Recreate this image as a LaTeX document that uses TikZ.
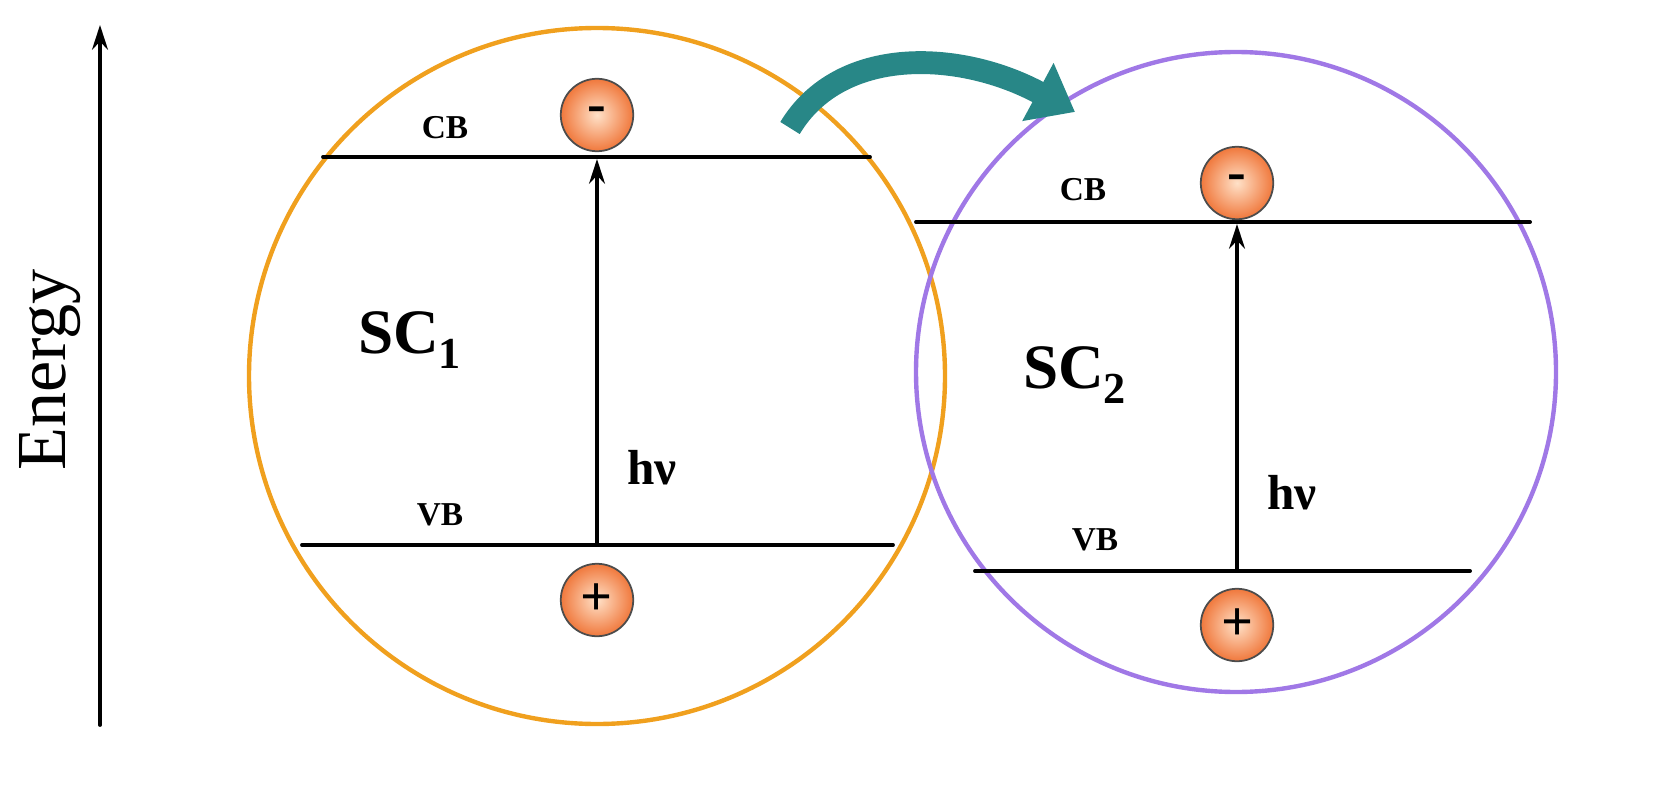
\documentclass[tikz,border=0pt]{standalone}
\usepackage{fontspec}
\setmainfont{Liberation Serif}
\usetikzlibrary{arrows.meta,positioning}
\definecolor{orangeA}{RGB}{240,160,30}
\definecolor{purpleA}{RGB}{160,120,230}
\definecolor{tealA}{RGB}{40,135,135}
\definecolor{chargeA}{RGB}{240,120,60}
\definecolor{chargeB}{RGB}{255,225,200}
\tikzset{
  band/.style={line width=2.2pt},
  charge/.style={circle, draw=black!70, line width=1pt, minimum size=1.45cm,
    inner sep=0pt, inner color=chargeB, outer color=chargeA, font=\bfseries\fontsize{32}{32}\selectfont},
  lvl/.style={font=\bfseries\fontsize{19}{19}\selectfont},
  sc/.style={font=\bfseries\fontsize{36}{36}\selectfont},
  hv/.style={font=\bfseries\fontsize{28}{28}\selectfont},
  up/.style={-{Stealth[length=14pt,width=9pt]}, line width=2.2pt}
}
\begin{document}
\begin{tikzpicture}[x=0.02cm,y=-0.02cm, line join = round, line cap = round]
  \useasboundingbox (0,0) rectangle (1665,787);

  % energy axis
  \coordinate (e0) at (100,725);
  \coordinate (e1) at (100,25);
  \draw[up] (e0) -- (e1);
  \node[rotate=90, font=\fontsize{40}{40}\selectfont] (energy) at (50,370) {Energy};

  % SC1
  \draw[orangeA, line width=2.5pt] (597,376) circle [radius=348];
  \coordinate (cb1l) at (323,157); \coordinate (cb1r) at (870,157);
  \coordinate (vb1l) at (302,545); \coordinate (vb1r) at (893,545);
  \coordinate (vb1) at (597,545);  \coordinate (cb1) at (597,159);
  \draw[band] (cb1l) -- (cb1r);
  \draw[band] (vb1l) -- (vb1r);
  \draw[up] (vb1) -- (cb1);
  \node[lvl] (cbA) at (445,128) {CB};
  \node[lvl] (vbA) at (440,515) {VB};
  \node[charge] (e1m) at (597,115) {-};
  \node[charge] (h1p) at (597,600) {+};
  \node[sc] (sc1) at (410,340) {SC\textsubscript{1}};
  \node[hv] (hv1) at (652,468) {hν};

  % SC2
  \draw[purpleA, line width=2.5pt] (1236,372) circle [radius=320];
  \coordinate (cb2l) at (916,222); \coordinate (cb2r) at (1530,222);
  \coordinate (vb2l) at (975,571); \coordinate (vb2r) at (1470,571);
  \coordinate (vb2) at (1237,571); \coordinate (cb2) at (1237,224);
  \draw[band] (cb2l) -- (cb2r);
  \draw[band] (vb2l) -- (vb2r);
  \draw[up] (vb2) -- (cb2);
  \node[lvl] (cbB) at (1083,190) {CB};
  \node[lvl] (vbB) at (1095,540) {VB};
  \node[charge] (e2m) at (1237,183) {-};
  \node[charge] (h2p) at (1237,625) {+};
  \node[sc] (sc2) at (1075,375) {SC\textsubscript{2}};
  \node[hv] (hv2) at (1292,493) {hν};

  % electron transfer
  \coordinate (t0) at (790,128);
  \coordinate (t1) at (1075,112);
  \draw[tealA, line width=13pt, line cap=butt, -{Triangle[length=24pt,width=36pt]}]
    (t0) .. controls (840,45) and (960,50) .. (t1);
\end{tikzpicture}
\end{document}
